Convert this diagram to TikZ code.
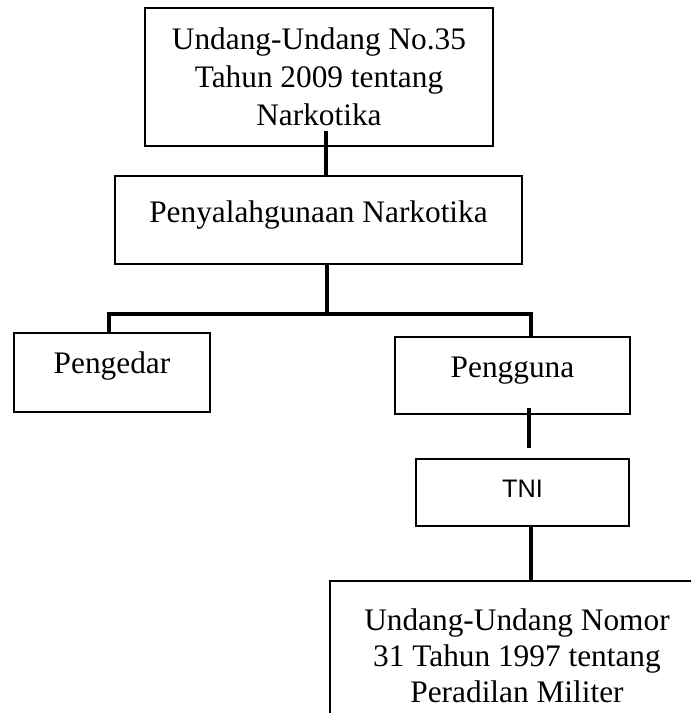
\documentclass[tikz,border=0pt]{standalone}
\usepackage{fontspec}
\setmainfont{Liberation Serif}
\newfontfamily\tnifont{Liberation Sans}
\usetikzlibrary{calc}
\tikzset{
  box/.style={draw=black, line width=1.6pt, fill=white, inner xsep=0pt, inner ysep=0pt,
    font={\fontsize{23.5}{28.3}\selectfont}, align=center},
  conn/.style={draw=black, line width=2.8pt},
}
\begin{document}
\begin{tikzpicture}[x=0.75pt,y=-0.75pt]
\useasboundingbox (0,0) rectangle (691,713);
\clip (0,0) rectangle (691,713);

% boxes
\node[box, minimum width=261pt, minimum height=103.5pt] (uu) at (319,77)
  {Undang-Undang No.35\\Tahun 2009 tentang\\Narkotika};
\node[box, anchor=base, minimum width=305.25pt, text height=34.5pt, text depth=31.5pt] (pn) at (318.5,222)
  {Penyalahgunaan Narkotika};
\node[box, anchor=base, minimum width=147pt, text height=30pt, text depth=29.25pt] (pd) at (112,373)
  {Pengedar};
\node[box, anchor=base, minimum width=176.25pt, text height=30pt, text depth=27.75pt] (pg) at (512.5,377)
  {Pengguna};
\node[box, anchor=base, minimum width=159.75pt, text height=28.5pt, text depth=21.75pt,
      font={\tnifont\fontsize{19}{22}\selectfont}] (tni) at (522.5,497)
  {TNI};
\node[box, anchor=north, minimum width=280.5pt, minimum height=112.5pt, line width=1.4pt,
      font={\fontsize{23.5}{27}\selectfont}] (mil) at (517,580)
  {Undang-Undang Nomor\\31 Tahun 1997 tentang\\Peradilan Militer};

% connector points
\coordinate (hl) at (109,314);
\coordinate (hr) at (531,314);
\coordinate (hm) at (327,314);
\coordinate (gend) at (529,448);
\coordinate (ua) at ($(uu.south)+(7,-16)$);
\coordinate (pa) at ($(pn.north)+(7.5,0)$);
\coordinate (pb) at ($(pn.south)+(8.5,0)$);
\coordinate (ga) at ($(pg.south)+(16.5,-7)$);
\coordinate (ta) at ($(tni.south)+(8.5,0)$);
\coordinate (ma) at (ta |- mil.north);

\draw[conn] (ua) -- (pa);
\draw[conn] (pb) -- (hm);
\draw[conn, line cap=rect] (hl) -- (hr);
\draw[conn] (hl) -- (hl |- pd.north);
\draw[conn] (hr) -- (hr |- pg.north);
\draw[conn] (ga) -- (gend);
\draw[conn] (ta) -- (ma);
\end{tikzpicture}
\end{document}
